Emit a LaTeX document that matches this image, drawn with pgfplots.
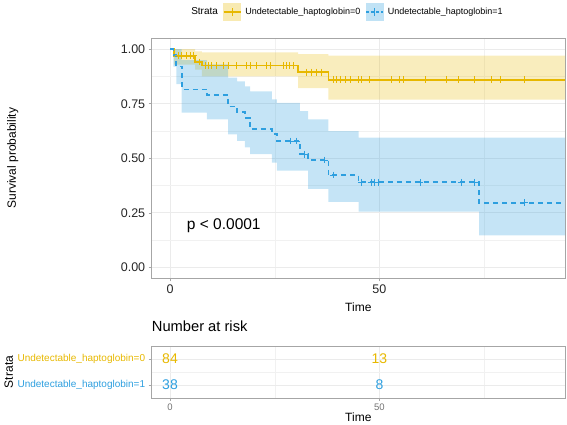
\documentclass[border=0pt]{standalone}
\usepackage{pgfplots}
\pgfplotsset{compat=1.18}
\usepgfplotslibrary{fillbetween}
\usepackage{fontspec}
\setmainfont{Liberation Sans}
\definecolor{ycol}{HTML}{E7B800}
\definecolor{bcol}{HTML}{2E9FDF}
\definecolor{gridc}{HTML}{EBEBEB}
\definecolor{bordc}{HTML}{A6A6A6}
\newcommand{\fs}[1]{\fontsize{#1}{#1}\selectfont}

\begin{document}
\begin{tikzpicture}
\path (0pt,0pt) rectangle (567pt,421pt);
\begin{axis}[
  at={(151.7pt,142.7pt)}, anchor=south west,
  width=413.3pt, height=240pt, scale only axis,
  xmin=-4.37, xmax=94.3, ymin=-0.05, ymax=1.05,
  xtick={0,50}, xticklabels={0,50}, minor xtick={25,75},
  ytick={0,0.25,0.5,0.75,1}, yticklabels={0.00,0.25,0.50,0.75,1.00},
  minor ytick={0.125,0.375,0.625,0.875},
  /pgf/number format/assume math mode=true,
  grid=both,
  major grid style={gridc, line width=0.7pt},
  minor grid style={gridc!70, line width=0.4pt},
  axis line style={bordc, line width=0.6pt},
  tick style={bordc, line width=0.6pt},
  major tick length=3pt, minor tick length=0pt,
  tick align=outside, xtick pos=bottom, ytick pos=left,
  ticklabel style={font=\fs{12.5}, text=black!85},
  xlabel={Time}, ylabel={Survival probability},
  xlabel style={font=\fs{12}, at={(axis description cs:0.5,-0.12)}, anchor=center},
  ylabel style={font=\fs{12}, at={(axis description cs:-0.336,0.5)}, anchor=center},
  legend style={at={(axis description cs:0.47,1.11)}, anchor=center, draw=none, fill=none,
    legend columns=-1, font=\fs{9}, inner sep=0pt,
    /tikz/every odd column/.append style={column sep=2pt},
    /tikz/every even column/.append style={column sep=3pt}},
]
\addlegendimage{empty legend}
\addlegendentry{\fs{10}Strata}
\addlegendimage{legend image code/.code={
  \fill[ycol!30] (0pt,-8.5pt) rectangle (17pt,8.5pt);
  \draw[ycol,line width=1.5pt] (0pt,0pt)--(17pt,0pt);
  \draw[ycol,line width=1pt] (8.5pt,-4pt)--(8.5pt,4pt);}}
\addlegendentry{Undetectable\_haptoglobin=0}
\addlegendimage{legend image code/.code={
  \fill[bcol!30] (0pt,-8.5pt) rectangle (17pt,8.5pt);
  \draw[bcol,line width=1.5pt,dash pattern=on 3pt off 2pt] (0pt,0pt)--(17pt,0pt);
  \draw[bcol,line width=1pt] (8.5pt,-4pt)--(8.5pt,4pt);}}
\addlegendentry{Undetectable\_haptoglobin=1}

% yellow band
\addplot[const plot, draw=none, name path=yU, forget plot] coordinates {
 (0,1) (1,1) (6,0.99) (7.6,0.986) (30.6,0.977) (37.8,0.97) (94.3,0.97)};
\addplot[const plot, draw=none, name path=yL, forget plot] coordinates {
 (0,1) (1,0.929) (6,0.906) (7.6,0.875) (30.6,0.822) (37.8,0.769) (94.3,0.769)};
\addplot[ycol, fill opacity=0.26, draw=none, forget plot] fill between[of=yU and yL];
% blue band
\addplot[const plot, draw=none, name path=bU, forget plot] coordinates {
 (0,1) (0.8,1) (1.5,1) (2.8,0.95) (8.8,0.93) (13.9,0.87) (16,0.853) (17.9,0.83)
 (19.1,0.807) (24.3,0.77) (25.5,0.754) (31,0.716) (33,0.678) (37.8,0.625)
 (45,0.595) (73.8,0.595) (94.3,0.595)};
\addplot[const plot, draw=none, name path=bL, forget plot] coordinates {
 (0,1) (0.8,0.92) (1.5,0.84) (2.8,0.709) (8.8,0.678) (13.9,0.61) (16,0.58) (17.9,0.55)
 (19.1,0.519) (24.3,0.48) (25.5,0.443) (31,0.443) (33,0.36) (37.8,0.30)
 (45,0.256) (73.8,0.147) (94.3,0.147)};
\addplot[bcol, fill opacity=0.28, draw=none, forget plot] fill between[of=bU and bL];

% curves
\addplot[const plot, ycol, line width=1.6pt, forget plot] coordinates {
 (0,1) (1,0.97) (6,0.941) (7.6,0.925) (30.6,0.895) (37.8,0.86) (94.3,0.86)};
\addplot[const plot, bcol, line width=1.6pt, dash pattern=on 5pt off 4pt, forget plot] coordinates {
 (0,1) (0.8,0.974) (1.5,0.921) (2.8,0.816) (8.8,0.789) (13.9,0.737) (16,0.711)
 (17.9,0.684) (19.1,0.633) (24.3,0.61) (25.5,0.579) (31,0.519) (33,0.492)
 (37.8,0.423) (45,0.39) (73.8,0.296) (94.3,0.296)};

% censor marks
\addplot[only marks, mark=+, mark size=3.4pt, ycol, mark options={line width=1pt}, forget plot] coordinates {
 (2.0,0.97) (2.8,0.97) (4.0,0.97) (4.8,0.97) (5.6,0.97) (7.0,0.941)
 (8.4,0.925) (9.1,0.925) (9.9,0.925) (11.1,0.925) (12.7,0.925) (13.9,0.925)
 (15.9,0.925) (18.3,0.925) (19.1,0.925) (20.7,0.925) (23.1,0.925) (23.9,0.925)
 (27.0,0.925) (27.8,0.925) (28.6,0.925) (29.4,0.925)
 (32.6,0.895) (33.8,0.895) (35.0,0.895) (36.2,0.895)
 (39.0,0.86) (39.8,0.86) (40.6,0.86) (41.8,0.86) (43.0,0.86) (44.9,0.86)
 (45.7,0.86) (47.7,0.86) (52.9,0.86) (54.9,0.86) (55.7,0.86) (60.9,0.86)
 (65.9,0.86) (68.8,0.86) (72.8,0.86) (76.8,0.86) (78.8,0.86) (84.7,0.86)};
\addplot[only marks, mark=+, mark size=3.4pt, bcol, mark options={line width=1pt}, forget plot] coordinates {
 (28.7,0.579) (30.2,0.579) (32.2,0.519) (37,0.492) (39,0.423)
 (45.7,0.39) (48.1,0.39) (48.9,0.39) (49.7,0.39) (59.7,0.39) (69.6,0.39) (72.8,0.39)
 (84.7,0.296)};

\node[anchor=west, font=\fs{15.5}, text=black] at (axis cs:3.2,0.19) {p < 0.0001};
\end{axis}

\begin{axis}[
  at={(151.7pt,23pt)}, anchor=south west,
  width=413.3pt, height=52pt, scale only axis,
  xmin=-4.37, xmax=94.3, ymin=0.5, ymax=2.5,
  xtick={0,50}, xticklabels={0,50}, minor xtick={25,75},
  ytick={1,2},
  yticklabels={\textcolor{bcol}{Undetectable\_haptoglobin=1},\textcolor{ycol}{Undetectable\_haptoglobin=0}},
  minor ytick={1.5},
  grid=both,
  major grid style={gridc, line width=0.7pt},
  minor grid style={gridc!70, line width=0.4pt},
  axis line style={bordc, line width=0.6pt},
  tick style={bordc, line width=0.6pt},
  major tick length=3pt, minor tick length=0pt,
  tick align=outside, xtick pos=bottom, ytick pos=left,
  xticklabel style={font=\fs{9.5}, text=black!55, yshift=1pt},
  yticklabel style={font=\fs{10}},
  title={Number at risk},
  title style={font=\fs{14.7}, at={(axis description cs:0,1)}, anchor=south west, inner sep=0pt, yshift=8pt},
  xlabel={Time}, ylabel={Strata},
  xlabel style={font=\fs{12}, at={(axis description cs:0.5,-0.36)}, anchor=center},
  ylabel style={font=\fs{12}, at={(axis description cs:-0.346,0.5)}, anchor=center},
]
\addplot[draw=none, mark=none, nodes near coords, point meta=explicit symbolic,
  nodes near coords style={anchor=center, font=\fs{14}, text=ycol}] coordinates {(0,2) [84] (50,2) [13]};
\addplot[draw=none, mark=none, nodes near coords, point meta=explicit symbolic,
  nodes near coords style={anchor=center, font=\fs{14}, text=bcol}] coordinates {(0,1) [38] (50,1) [8]};
\end{axis}
\end{tikzpicture}
\end{document}
